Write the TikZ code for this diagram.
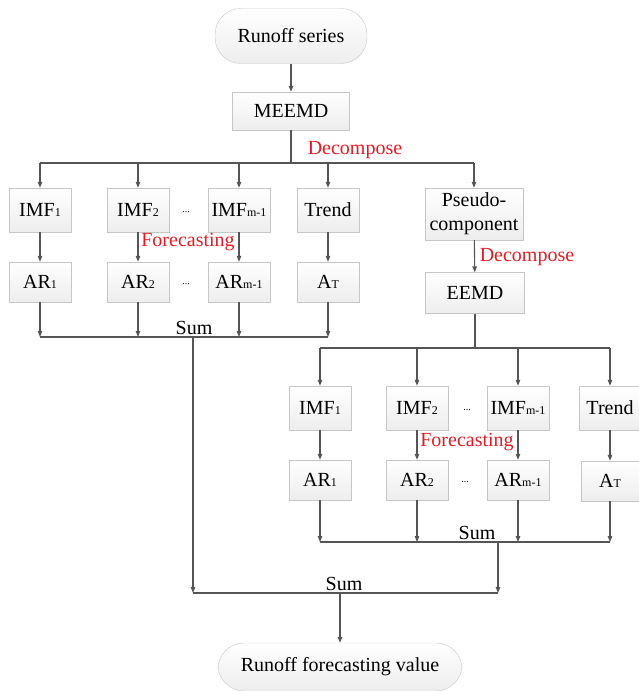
\documentclass[tikz,border=0pt]{standalone}
\usepackage{fontspec}
\setmainfont{Liberation Serif}
\usetikzlibrary{arrows.meta}
\definecolor{linegray}{RGB}{85,85,85}
\definecolor{boxgray}{RGB}{198,198,198}
\definecolor{redtxt}{RGB}{226,28,36}
\newcommand{\idx}[1]{{\fontsize{12}{12}\selectfont #1}}
\tikzset{
  box/.style={draw=boxgray, top color=white, bottom color=gray!14, minimum width=62pt, minimum height=44pt, inner sep=2pt, font=\fontsize{20}{24}\selectfont},
  term/.style={box, rounded corners=26pt},
  arr/.style={draw=linegray, line width=1.1pt, -{Triangle[length=6pt,width=4.5pt]}},
  ln/.style={draw=linegray, line width=1.1pt},
  lbl/.style={text=redtxt, font=\fontsize{20}{24}\selectfont, inner sep=0pt},
  sumlbl/.style={font=\fontsize{20}{24}\selectfont, inner sep=0pt, anchor=base},
  dots/.style={font=\fontsize{10}{10}\selectfont, inner sep=0pt},
}
\begin{document}
\begin{tikzpicture}[x=1pt,y=-1pt]
\useasboundingbox (0,0) rectangle (639,691);
% top part
\node (series) at (291,36) [term, minimum width=152pt, minimum height=55pt] {Runoff series};
\node (meemd) at (291,111) [box, minimum width=117pt, minimum height=38pt] {MEEMD};
\coordinate (j1) at (291,163); \coordinate (s1) at (193,337);
\draw[arr] (series) -- (meemd); \draw[ln] (meemd) -- (j1);
\node at (355,150) [lbl] {Decompose};
% first level components
\node (imfa) at (40,210) [box] {IMF\idx{1}};
\node (imfb) at (138,210) [box] {IMF\idx{2}};
\node (imfc) at (239,210) [box] {IMF\idx{m-1}};
\node (trenda) at (328,210) [box] {Trend};
\node (pseudo) at (474,214) [box, minimum width=98pt, minimum height=52pt, align=center] {Pseudo-\\component};
\node (dotsa) at (186,212) [dots] {...};
\node (ara) at (40,282) [box, minimum height=40pt] {AR\idx{1}};
\node (arb) at (138,282) [box, minimum height=40pt] {AR\idx{2}};
\node (arc) at (239,282) [box, minimum height=40pt] {AR\idx{m-1}};
\node (ata) at (328,282) [box, minimum height=40pt] {A\idx{T}};
\node (dotsb) at (186,284) [dots] {...};
\draw[ln] (imfa |- j1) -- (pseudo |- j1);
\foreach \n in {imfa,imfb,imfc,trenda,pseudo} \draw[arr] (\n |- j1) -- (\n);
\foreach \a/\b in {imfa/ara,imfb/arb,imfc/arc,trenda/ata} \draw[arr] (\a) -- (\b);
\node at (188,242) [lbl] {Forecasting};
\draw[ln] (ara |- s1) -- (ata |- s1);
\foreach \n in {ara,arb,arc,ata} \draw[arr] (\n) -- (\n |- s1);
\node at (194,334) [sumlbl] {Sum};
% second decomposition
\node (eemd) at (475,293) [box, minimum width=99pt, minimum height=41pt] {EEMD};
\coordinate (j2) at (475,348); \coordinate (s2) at (498,542);
\draw[arr] (pseudo) -- (eemd); \draw[ln] (eemd) -- (j2);
\node at (527,257) [lbl] {Decompose};
\node (imfd) at (320,408) [box] {IMF\idx{1}};
\node (imfe) at (417,408) [box] {IMF\idx{2}};
\node (imff) at (518,408) [box] {IMF\idx{m-1}};
\node (trendb) at (610,408) [box, minimum width=62pt] {Trend};
\node (dotsc) at (467,410) [dots] {...};
\node (ard) at (320,480) [box, minimum height=40pt] {AR\idx{1}};
\node (are) at (417,480) [box, minimum height=40pt] {AR\idx{2}};
\node (arf) at (518,480) [box, minimum height=40pt] {AR\idx{m-1}};
\node (atb) at (610,481) [box, minimum width=58pt, minimum height=40pt] {A\idx{T}};
\node (dotsd) at (465,482) [dots] {...};
\draw[ln] (imfd |- j2) -- (trendb |- j2);
\foreach \n in {imfd,imfe,imff,trendb} \draw[arr] (\n |- j2) -- (\n);
\foreach \a/\b in {imfd/ard,imfe/are,imff/arf,trendb/atb} \draw[arr] (\a) -- (\b);
\node at (467,442) [lbl] {Forecasting};
\draw[ln] (ard |- s2) -- (atb |- s2);
\foreach \n in {ard,are,arf,atb} \draw[arr] (\n) -- (\n |- s2);
\node at (477,539) [sumlbl] {Sum};
% final sum
\node (final) at (340,667) [term, minimum width=244pt, minimum height=48pt] {Runoff forecasting value};
\coordinate (s3) at (340,593);
\draw[arr] (s1) -- (s1 |- s3); \draw[arr] (s2) -- (s2 |- s3);
\draw[ln] (s1 |- s3) -- (s2 |- s3);
\node at (344,590) [sumlbl] {Sum};
\draw[arr] (s3) -- (final);
\end{tikzpicture}
\end{document}
